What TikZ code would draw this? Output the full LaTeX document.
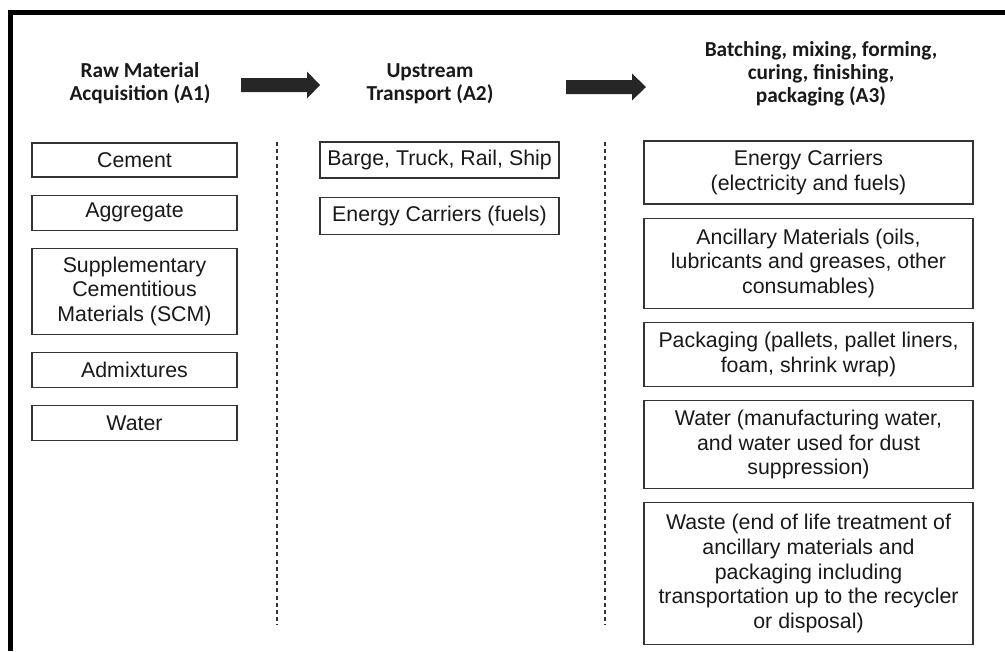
\documentclass[tikz,border=0pt]{standalone}
\usepackage{fontspec}
\setmainfont{Liberation Sans}
\newfontfamily\headfont{Carlito}
\definecolor{linecolor}{rgb}{0.2, 0.2, 0.2}
\definecolor{lettercolor}{rgb}{0.1, 0.1, 0.1}
\usetikzlibrary{positioning}
\tikzset{
	block/.style={
		rectangle,
		draw=linecolor,
		line width=0.9pt,
		fill=white,
		text=lettercolor,
		align=center,
		inner sep=0pt,
		font=\fontsize{16}{18.5}\selectfont
	},
	rawbox/.style={
		block,
		minimum width=153.75pt
	},
	transbox/.style={
		block,
		minimum width=179.25pt
	},
	prodbox/.style={
		block,
		minimum width=246.75pt
	},
	heading/.style={
		align=center,
		inner sep=0pt,
		text=lettercolor,
		font=\headfont\bfseries\fontsize{16}{17}\selectfont
	},
	divider/.style={
		draw=linecolor,
		line width=1.2pt,
		dash pattern=on 3pt off 2.4pt
	},
	bigarrow/.style={
		fill=black!85,
		draw=none
	},
}

\begin{document}
\begin{tikzpicture}[x=0.75pt,y=-0.75pt]
			\useasboundingbox (0,0) rectangle (1005,651);
			% frame
			\draw[line width=3.3pt] (10.5,651) -- (10.5,12.5) -- (1005,12.5);
			% headings (base = last line)
			\node[heading,anchor=base] (headA) at (140,100) {Raw Material\\Acquisition (A1)};
			\node[heading,anchor=base] (headB) at (430,100) {Upstream\\Transport (A2)};
			\node[heading,anchor=base] (headC) at (821,102) {Batching, mixing, forming,\\curing, finishing,\\packaging (A3)};
			\fill[bigarrow] (241,78) -- (307,78) -- (307,71.5) -- (320,85) -- (307,98.5) -- (307,92) -- (241,92) -- cycle;
			\fill[bigarrow] (566,80) -- (632,80) -- (632,73.5) -- (646,87) -- (632,100.5) -- (632,94) -- (566,94) -- cycle;
			% A1 column
			\begin{scope}[node distance=12.75pt]
			\node[rawbox,minimum height=25.5pt] (cement) at (134.5,160) {Cement};
			\node[rawbox,minimum height=26.25pt] (aggr) [below=of cement] {Aggregate};
			\node[rawbox,minimum height=64.5pt] (scm) [below=of aggr] {Supplementary\\Cementitious\\Materials (SCM)};
			\node[rawbox,minimum height=26.25pt] (admix) [below=of scm] {Admixtures};
			\node[rawbox,minimum height=26.25pt] (water) [below=of admix] {Water};
			\end{scope}
			% A2 column
			\begin{scope}[node distance=13.5pt]
			\node[transbox,minimum height=27pt] (modes) at (439.5,160) {Barge, Truck, Rail, Ship};
			\node[transbox,minimum height=27.75pt] (fuels) [below=of modes] {Energy Carriers (fuels)};
			\end{scope}
			% A3 column
			\begin{scope}[node distance=9.75pt]
			\node[prodbox,minimum height=47.25pt] (energy) at (808.5,172.5) {Energy Carriers\\(electricity and fuels)};
			\node[prodbox,minimum height=67.5pt] (ancil) [below=of energy] {Ancillary Materials (oils,\\lubricants and greases, other\\consumables)};
			\node[prodbox,minimum height=48pt] (pack) [below=of ancil] {Packaging (pallets, pallet liners,\\foam, shrink wrap)};
			\node[prodbox,minimum height=66pt] (mwater) [below=of pack] {Water (manufacturing water,\\and water used for dust\\suppression)};
			\node[prodbox,minimum height=106.5pt] (waste) [below=of mwater] {Waste (end of life treatment of\\ancillary materials and\\packaging including\\transportation up to the recycler\\or disposal)};
			\end{scope}
			% dividers
			\draw[divider] (277,142) -- (277,625);
			\draw[divider] (605,142) -- (605,625);
\end{tikzpicture}
\end{document}
